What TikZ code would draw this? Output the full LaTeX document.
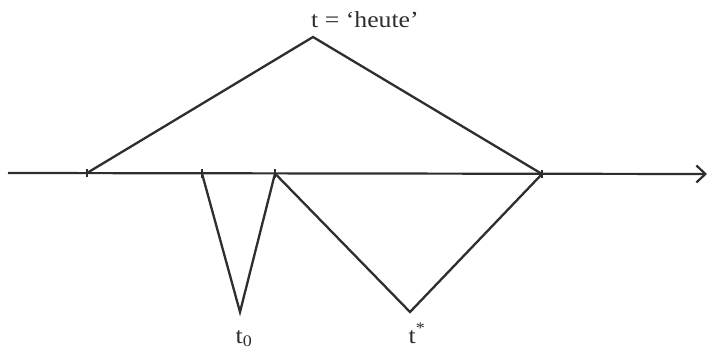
\documentclass[tikz,border=0pt]{standalone}
\usepackage{fontspec}
\setmainfont{Liberation Serif}
\usetikzlibrary{arrows.meta}
\definecolor{ink}{HTML}{2E2E2E}
\tikzset{
  axisline/.style={draw=ink, line width=2.2pt, -{Straight Barb[length=9pt,width=17pt,line width=2.2pt]}},
  edge/.style={draw=ink, line width=2.3pt, line join=miter},
  tickmark/.style={draw=ink, line width=1.4pt},
  lbl/.style={text=ink, font=\fontsize{23}{26}\selectfont, inner sep=0pt, xscale=1.12}
}
\begin{document}
\begin{tikzpicture}[x=1pt,y=1pt]
\useasboundingbox[fill=white] (0,0) rectangle (711,351);
\coordinate (start) at (8,178);
\coordinate (end) at (707,177);
\coordinate (A) at (87,178);
\coordinate (T) at (313,314);
\coordinate (B) at (542,177);
\coordinate (P1) at (202,177.5);
\coordinate (P2) at (275,177.5);
\coordinate (V0) at (240,39);
\coordinate (V1) at (410,39);
\draw[axisline] (start) -- (end);
\foreach \p in {A,P1,P2,B} \draw[tickmark] ([yshift=-4pt]\p) -- ([yshift=4pt]\p);
\draw[edge] (A) -- (T) -- (B);
\draw[edge] (P1) -- (V0) -- (P2) -- (V1) -- (B);
\node[lbl, anchor=base west] (heute) at (311,323) {t = ‘heute’};
\node[lbl, anchor=base] (t0) at (244,8) {t\textsubscript{0}};
\node[lbl, anchor=base] (tstar) at (417,8) {t\textsuperscript{*}};
\end{tikzpicture}
\end{document}
